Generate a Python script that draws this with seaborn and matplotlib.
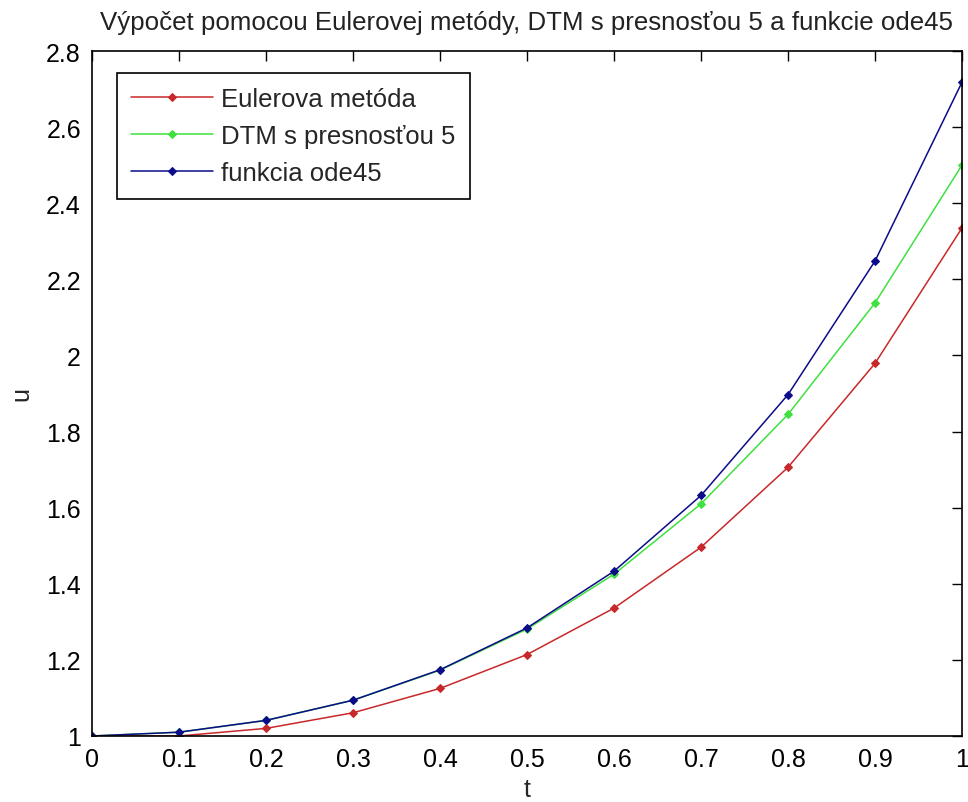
import matplotlib
matplotlib.use('Agg')
import matplotlib.pyplot as plt
from matplotlib.ticker import FuncFormatter
import pandas as pd
import seaborn as sns

# values
t = [0.0, 0.1, 0.2, 0.3, 0.4, 0.5, 0.6, 0.7, 0.8, 0.9, 1.0]
euler = [1.0, 1.0, 1.02, 1.061, 1.125, 1.214, 1.336, 1.496, 1.706, 1.979, 2.335]
dtm = [1.0, 1.01, 1.041, 1.094, 1.173, 1.281, 1.425, 1.610, 1.845, 2.138, 2.5]
ode45 = [1.0, 1.01, 1.041, 1.094, 1.174, 1.284, 1.433, 1.632, 1.897, 2.248, 2.718]

labels = ['Eulerova metóda', 'DTM s presnosťou 5', 'funkcia ode45']
colors = ['#c8282a', '#3fe03f', '#0c0c8a']
title = 'Výpočet pomocou Eulerovej metódy, DTM s presnosťou 5 a funkcie ode45'

sns.set_theme(style='white')
plt.rcParams['font.family'] = ['Liberation Sans', 'DejaVu Sans']
plt.rcParams['font.size'] = 17

df = pd.DataFrame({'t': t * 3,
                   'u': euler + dtm + ode45,
                   'series': [labels[0]] * len(t) + [labels[1]] * len(t) + [labels[2]] * len(t)})

fig = plt.figure(figsize=(9.68, 8.03), dpi=100)
ax = fig.add_axes([92 / 968, 66 / 803, 870 / 968, 685 / 803])

for name, col in zip(labels, colors):
    curr = df[df.series == name]
    sns.lineplot(ax=ax, data=curr, x='t', y='u', color=col, label=name,
                 marker='D', markersize=4.5, markeredgecolor=col, linewidth=1.1)

ax.set_xlim(0, 1)
ax.set_ylim(1, 2.8)
ax.set_xticks(t)
ax.set_yticks([1, 1.2, 1.4, 1.6, 1.8, 2.0, 2.2, 2.4, 2.6, 2.8])
fmt = FuncFormatter(lambda v, p: f'{v:g}')
ax.xaxis.set_major_formatter(fmt)
ax.yaxis.set_major_formatter(fmt)
ax.tick_params(direction='in', length=7, width=1, top=True, right=True,
               labelsize=18, pad=8, colors='black')

for s in ax.spines.values():
    s.set_color('black')
    s.set_linewidth(1.2)

ax.set_title(title, fontsize=18.6, pad=16, color='#222222')
ax.set_xlabel('t', fontsize=18, labelpad=4)
ax.set_ylabel('u', fontsize=18, labelpad=9)

leg = ax.legend(loc='upper left', bbox_to_anchor=(25 / 870, 663 / 685),
                borderaxespad=0, fontsize=18.5, fancybox=False, framealpha=1,
                edgecolor='black', handlelength=3.2, handletextpad=0.3,
                labelspacing=0.5, borderpad=0.55)
leg.get_frame().set_linewidth(1.2)

fig.savefig('out.png', dpi=100)
